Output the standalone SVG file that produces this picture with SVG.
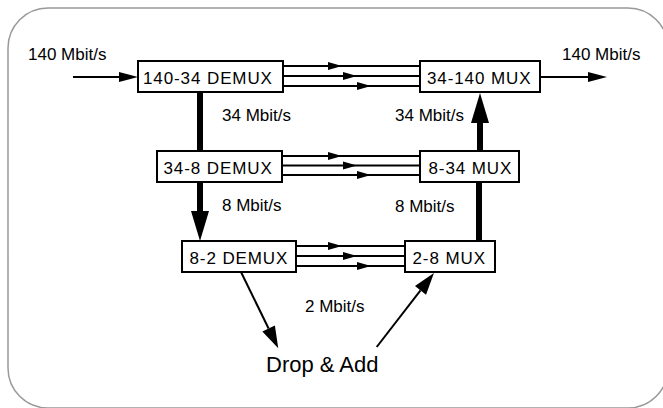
<svg xmlns="http://www.w3.org/2000/svg" width="663" height="408" viewBox="0 0 663 408">
<style>
  text { font-family: "Liberation Sans", Arial, Helvetica, sans-serif; fill: #000; }
  .box { fill: #fff; stroke: #000; stroke-width: 2; }
  .bt { font-size: 17px; letter-spacing: 0.9px; }
  .lbl { font-size: 17px; }
  .thin { stroke: #000; stroke-width: 1.8; fill: none; }
  .thick { stroke: #000; stroke-width: 6; fill: none; }
  .mid { stroke: #000; stroke-width: 2; fill: none; }
</style>
<defs>
  <marker id="mh" markerUnits="userSpaceOnUse" markerWidth="14" markerHeight="8" refX="14" refY="4" orient="auto" overflow="visible">
    <path d="M0,0 L14,4 L0,8 z" fill="#000"/>
  </marker>
  <marker id="io" markerUnits="userSpaceOnUse" markerWidth="19" markerHeight="10" refX="0" refY="5" orient="auto" overflow="visible">
    <path d="M0,0 L19,5 L0,10 z" fill="#000"/>
  </marker>
  <marker id="big" markerUnits="userSpaceOnUse" markerWidth="30" markerHeight="18" refX="0" refY="9" orient="auto" overflow="visible">
    <path d="M0,0 L30,9 L0,18 z" fill="#000"/>
  </marker>
  <marker id="dg" markerUnits="userSpaceOnUse" markerWidth="22" markerHeight="14" refX="0" refY="7" orient="auto" overflow="visible">
    <path d="M0,0 L22,7 L0,14 z" fill="#000"/>
  </marker>
</defs>
<rect x="8" y="8" width="660" height="400" rx="40" ry="40" fill="#fff" stroke="#999" stroke-width="1.5"/>
<g id="connectors">
  <path class="mid" d="M73,77 L119,77" marker-end="url(#io)"/>
  <path class="mid" d="M540,77 L588,77" marker-end="url(#io)"/>
  <path class="thin" d="M283,66 L342,66 L420,66" marker-mid="url(#mh)"/>
  <path class="thin" d="M283,76 L357,76 L420,76" marker-mid="url(#mh)"/>
  <path class="thin" d="M283,86 L371,86 L420,86" marker-mid="url(#mh)"/>
  <path class="thin" d="M282,156 L342,156 L420,156" marker-mid="url(#mh)"/>
  <path class="thin" d="M282,165.5 L357,165.5 L420,165.5" marker-mid="url(#mh)"/>
  <path class="thin" d="M282,175 L371,175 L420,175" marker-mid="url(#mh)"/>
  <path class="thin" d="M296,246 L342,246 L405,246" marker-mid="url(#mh)"/>
  <path class="thin" d="M296,256 L357,256 L405,256" marker-mid="url(#mh)"/>
  <path class="thin" d="M296,266 L371,266 L405,266" marker-mid="url(#mh)"/>
  <path class="thick" d="M200,92 L200,151"/>
  <path class="thick" d="M200,182 L200,211" marker-end="url(#big)"/>
  <path class="thick" d="M479,241 L479,182"/>
  <path class="thick" d="M480,151 L480,123" marker-end="url(#big)"/>
  <path class="mid" d="M241,272 L268.6,328.5" marker-end="url(#dg)"/>
  <path class="mid" d="M376.7,347 L420.5,290.4" marker-end="url(#dg)"/>
  <text class="lbl" x="28" y="60">140 Mbit/s</text>
  <text class="lbl" x="562" y="60">140 Mbit/s</text>
  <text class="lbl" x="222" y="121">34 Mbit/s</text>
  <text class="lbl" x="395" y="121">34 Mbit/s</text>
  <text class="lbl" x="222" y="211">8 Mbit/s</text>
  <text class="lbl" x="395" y="211.5">8 Mbit/s</text>
  <text class="lbl" x="305" y="312">2 Mbit/s</text>
</g>
<g id="n1"><rect class="box" x="138" y="61" width="145" height="31"/><text class="bt" x="143" y="83.5">140-34 DEMUX</text></g>
<g id="n2"><rect class="box" x="420" y="61" width="120" height="31"/><text class="bt" x="427" y="83.5">34-140 MUX</text></g>
<g id="n3"><rect class="box" x="157" y="151" width="125" height="31"/><text class="bt" x="163.5" y="173.5">34-8 DEMUX</text></g>
<g id="n4"><rect class="box" x="420" y="151" width="99" height="31"/><text class="bt" x="428.5" y="173.5">8-34 MUX</text></g>
<g id="n5"><rect class="box" x="182" y="241" width="114" height="31"/><text class="bt" x="189.5" y="263.5">8-2 DEMUX</text></g>
<g id="n6"><rect class="box" x="405" y="241" width="90" height="31"/><text class="bt" x="412.5" y="263.5">2-8 MUX</text></g>
<g id="n7"><text x="266" y="372" style="font-size:22px">Drop &amp; Add</text></g>
</svg>
